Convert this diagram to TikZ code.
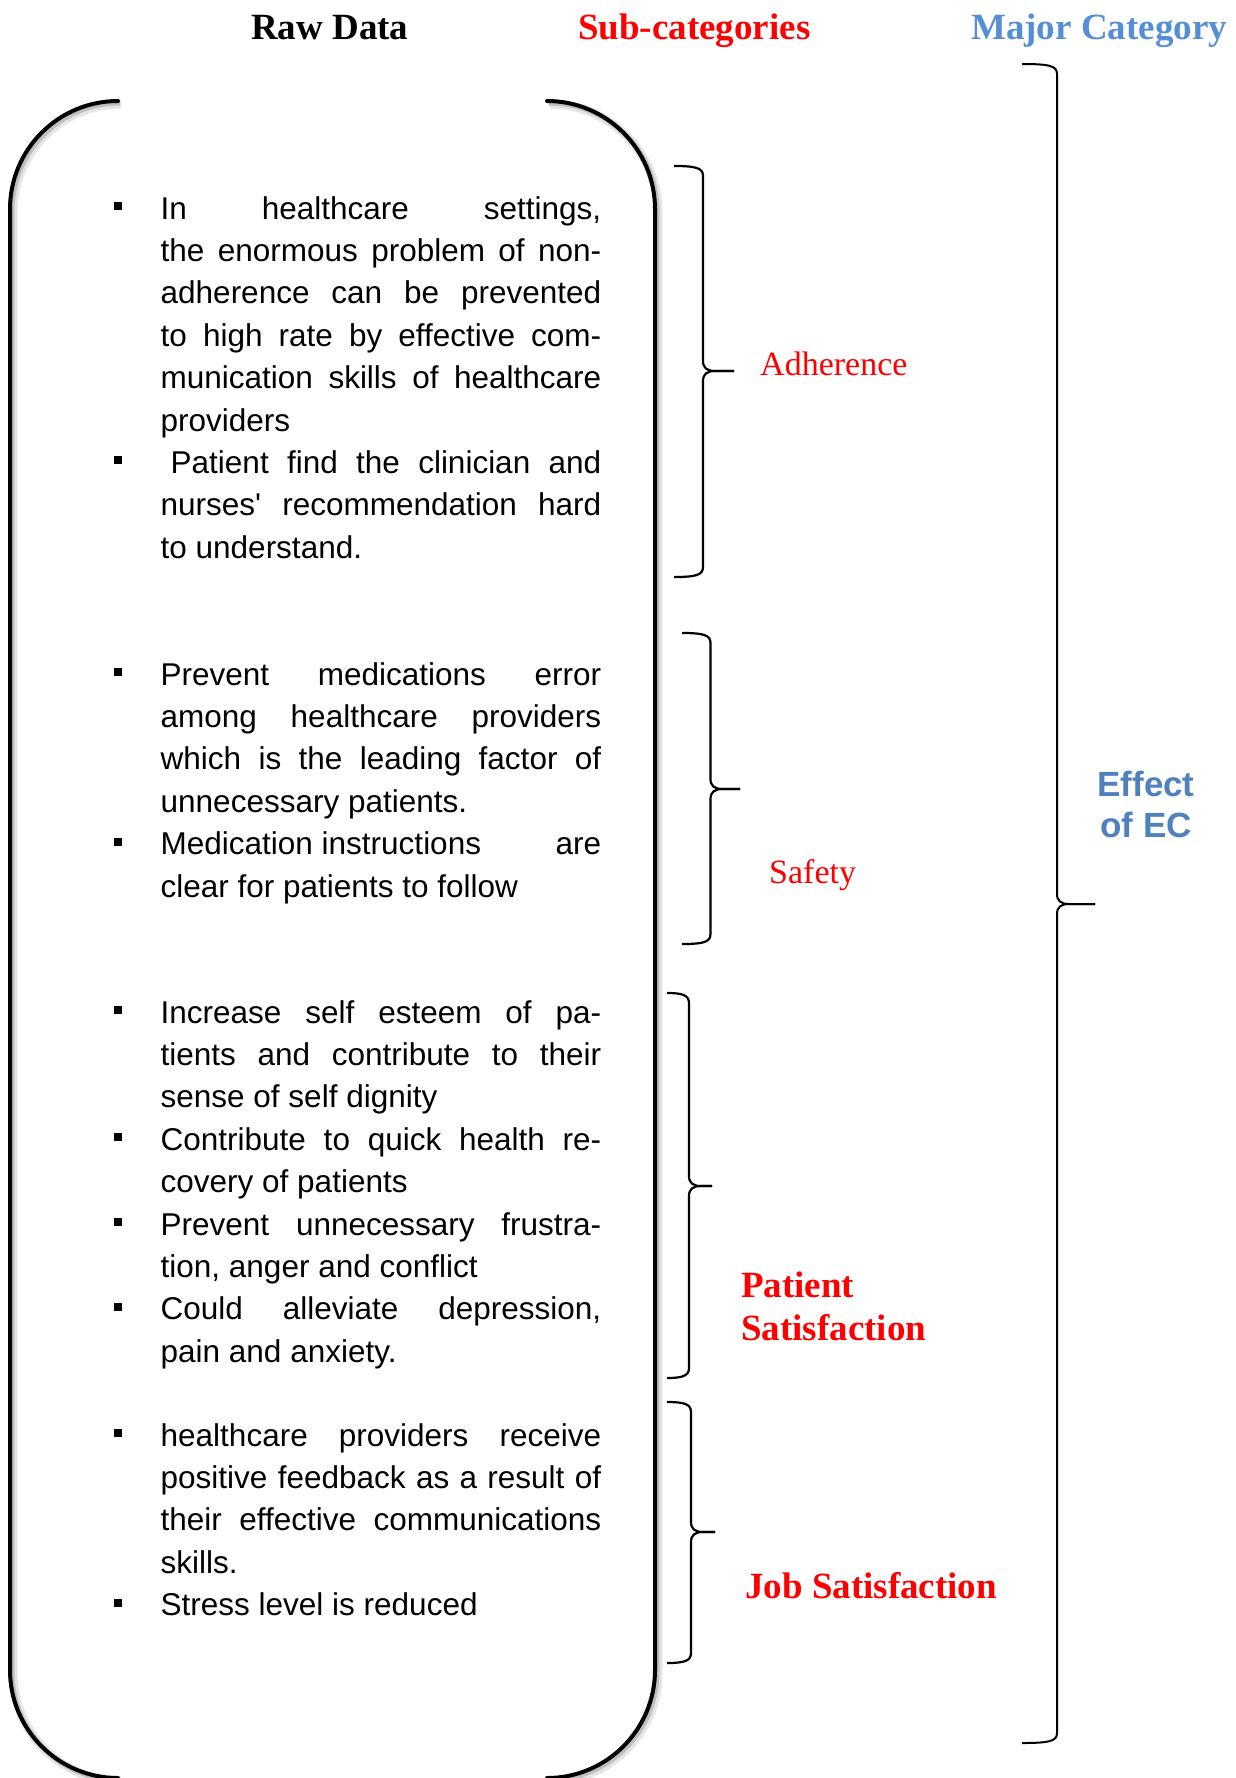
\documentclass[tikz,border=0pt]{standalone}
\usepackage{fontspec}
\setmainfont{Liberation Serif}
\newfontfamily\arialf{Liberation Sans}
\definecolor{majblue}{HTML}{558ED5}
\definecolor{ecblue}{HTML}{4F81BD}
\definecolor{subred}{RGB}{255,0,0}
\newlength\colw
\setlength\colw{440.5pt}
\newcommand\jl[1]{\leavevmode\makebox[\colw][s]{#1}\par}
\newcommand\lastl[1]{\leavevmode#1\par}
\newcommand\bulletmark{\llap{\rule[9pt]{8pt}{8pt}\hspace{38.5pt}}}
% brace: #1 end x, #2 top y, #3 vertical x, #4 tip x, #5 tip y, #6 bottom y, #7 line width
\newcommand\mybrace[7]{%
  \draw[line width=#7, line join=round]
    (#1,#2) .. controls ({#3-7},#2) and (#3,{#2+2}) .. (#3,{#2+10})
    -- (#3,{#5-10}) .. controls (#3,{#5-3}) and ({#3+4},#5) .. ({#3+12},#5) -- (#4,#5);
  \draw[line width=#7, line join=round]
    (#4,#5) -- ({#3+12},#5) .. controls ({#3+4},#5) and (#3,{#5+3}) .. (#3,{#5+10})
    -- (#3,{#6-10}) .. controls (#3,{#6-2}) and ({#3-7},#6) .. (#1,#6);
}
\tikzset{
  hdr/.style={font=\fontsize{37}{42}\selectfont\bfseries, inner sep=0pt, anchor=base west},
  subcat/.style={font=\fontsize{34}{40}\selectfont, text=subred, inner sep=0pt, anchor=base west},
  subcatb/.style={font=\fontsize{37}{43}\selectfont\bfseries, text=subred, inner sep=0pt, anchor=base west, align=left},
  rawtext/.style={inner sep=0pt, anchor=base west},
  boxline/.style={line width=4pt, line cap=round},
}
\newcommand\rawgroup[1]{\begin{minipage}[t]{\colw}\arialf\fontsize{31.5}{42.4}\selectfont\parindent=0pt\parskip=0pt #1\end{minipage}}
\begin{document}
\begin{tikzpicture}[x=1pt,y=-1pt]
\useasboundingbox (0,0) rectangle (1236,1778);
\fill[white] (0,0) rectangle (1236,1778);

% shadow of bracket box
\begin{scope}[shift={(3,3)}]
  \draw[black!10, line width=9pt]
    (118,101) .. controls (58.4,101) and (10,149.4) .. (10,209) -- (10,1670) .. controls (10,1729.6) and (58.4,1778) .. (118,1778);
  \draw[black!10, line width=9pt]
    (547,101) .. controls (606.6,101) and (655,149.4) .. (655,209) -- (655,1670) .. controls (655,1729.6) and (606.6,1778) .. (547,1778);
\end{scope}
\begin{scope}[shift={(2,2)}]
  \draw[black!25, line width=5pt]
    (118,101) .. controls (58.4,101) and (10,149.4) .. (10,209) -- (10,1670) .. controls (10,1729.6) and (58.4,1778) .. (118,1778);
  \draw[black!25, line width=5pt]
    (547,101) .. controls (606.6,101) and (655,149.4) .. (655,209) -- (655,1670) .. controls (655,1729.6) and (606.6,1778) .. (547,1778);
\end{scope}
% bracket box
\draw[boxline]
  (118,101) .. controls (58.4,101) and (10,149.4) .. (10,209) -- (10,1670) .. controls (10,1729.6) and (58.4,1778) .. (118,1778);
\draw[boxline]
  (547,101) .. controls (606.6,101) and (655,149.4) .. (655,209) -- (655,1670) .. controls (655,1729.6) and (606.6,1778) .. (547,1778);

% headers
\node[hdr] (raw) at (251,39) {Raw Data};
\node[hdr, text=subred] (subh) at (578,39) {Sub-categories};
\node[hdr, text=majblue] (majh) at (971,39) {Major Category};

% raw data text
\node[rawtext] (g1) at (160.5,219) {\rawgroup{%
\jl{\bulletmark In healthcare settings,}
\jl{the enormous problem of non-}
\jl{adherence can be prevented}
\jl{to high rate by effective com-}
\jl{munication skills of healthcare}
\lastl{providers}
\jl{\bulletmark\hspace{10pt}Patient find the clinician and}
\jl{nurses\textquotesingle\ recommendation hard}
\lastl{to understand.}}};

\node[rawtext] (g2) at (160.5,685) {\rawgroup{%
\jl{\bulletmark Prevent medications error}
\jl{among healthcare providers}
\jl{which is the leading factor of}
\lastl{unnecessary patients.}
\jl{\bulletmark Medication instructions\hfill are}
\lastl{clear for patients to follow}}};

\node[rawtext] (g3) at (160.5,1023) {\rawgroup{%
\jl{\bulletmark Increase self esteem of pa-}
\jl{tients and contribute to their}
\lastl{sense of self dignity}
\jl{\bulletmark Contribute to quick health re-}
\lastl{covery of patients}
\jl{\bulletmark Prevent unnecessary frustra-}
\lastl{tion, anger and conflict}
\jl{\bulletmark Could alleviate depression,}
\lastl{pain and anxiety.}}};

\node[rawtext] (g4) at (160.5,1446) {\rawgroup{%
\jl{\bulletmark healthcare providers receive}
\jl{positive feedback as a result of}
\jl{their effective communications}
\lastl{skills.}
\lastl{\bulletmark Stress level is reduced}}};

% sub-category braces
\mybrace{674}{166}{703}{734}{371}{577}{2.2pt}
\mybrace{682}{633}{710.5}{740}{789}{944}{2.2pt}
\mybrace{667}{993}{689}{712}{1186}{1378}{2.2pt}
\mybrace{667}{1402}{691}{715}{1532}{1663}{2.2pt}
% major brace
\mybrace{1022}{64}{1057}{1095}{904}{1743}{2pt}

% sub-category labels
\node[subcat] (adh) at (760,375) {Adherence};
\node[subcat] (saf) at (769,883) {Safety};
\node[subcatb] (pat) at (741,1340) {Patient\\Satisfaction};
\node[subcatb] (job) at (745,1598) {Job Satisfaction};

% major category label
\node[font=\arialf\bfseries\fontsize{35}{41.5}\selectfont, text=ecblue, inner sep=0pt, align=center, anchor=base] (ec) at (1146,837.5) {Effect\\of EC};
\end{tikzpicture}
\end{document}
